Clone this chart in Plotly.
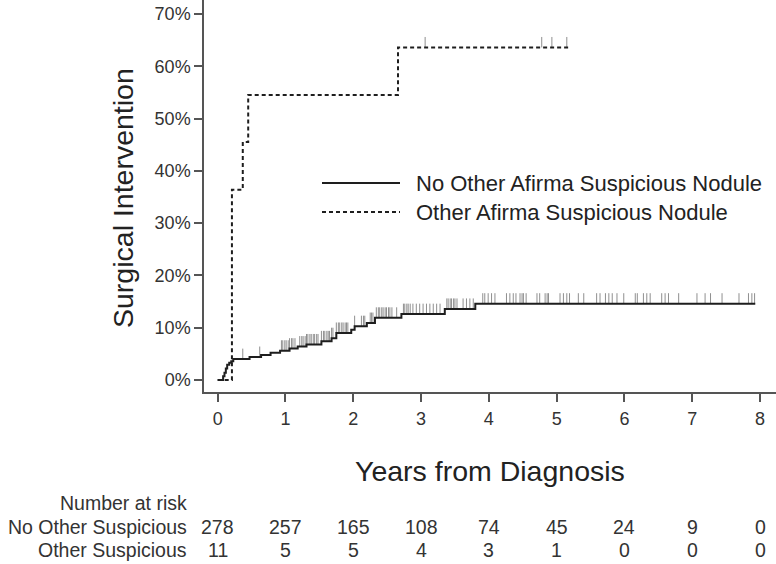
import numpy as np
import plotly.graph_objects as go

# ---------------- data ----------------
# Cumulative incidence (%) step functions: event times (years) and level after each step
no_other_times = [0.0, 0.08, 0.10, 0.12, 0.14, 0.17, 0.20, 0.23, 0.47, 0.64, 0.78, 0.92, 1.06,
                  1.18, 1.31, 1.53, 1.68, 1.75, 1.97, 2.02, 2.20, 2.32, 2.71, 3.35, 3.80, 7.93]
no_other_vals = [0.0, 0.7, 1.4, 2.2, 2.9, 3.3, 3.6, 4.0, 4.4, 4.8, 5.2, 5.6, 6.0,
                 6.4, 6.8, 7.4, 8.0, 9.0, 9.6, 10.3, 10.9, 11.9, 12.6, 13.6, 14.6, 14.6]

other_times = [0.0, 0.21, 0.37, 0.45, 2.66, 5.17]
other_vals = [0.0, 36.4, 45.5, 54.5, 63.6, 63.6]

# Censoring times (years)
no_other_censor = [0.37, 0.62, 0.94, 0.96, 0.99, 1.01, 1.04, 1.06, 1.09, 1.11, 1.14, 1.21, 1.24,
                   1.26, 1.29, 1.31, 1.33, 1.36, 1.38, 1.41, 1.43, 1.46, 1.48, 1.53, 1.56, 1.58,
                   1.61, 1.63, 1.65, 1.68, 1.70, 1.75, 1.78, 1.80, 1.83, 1.85, 1.88, 1.90, 1.92,
                   2.02, 2.12, 2.15, 2.17, 2.25, 2.27, 2.29, 2.34, 2.37, 2.39, 2.42, 2.44, 2.47,
                   2.49, 2.52, 2.54, 2.57, 2.64, 2.74, 2.76, 2.79, 2.81, 2.84, 2.88, 2.93, 2.98,
                   3.03, 3.08, 3.13, 3.18, 3.23, 3.28, 3.38, 3.40, 3.43, 3.45, 3.48, 3.50, 3.53,
                   3.62, 3.67, 3.72, 3.77, 3.91, 3.94, 3.99, 4.04, 4.09, 4.26, 4.31, 4.36, 4.40,
                   4.46, 4.49, 4.51, 4.55, 4.71, 4.75, 4.83, 4.86, 4.88, 5.05, 5.10, 5.15, 5.19,
                   5.32, 5.40, 5.59, 5.64, 5.72, 5.77, 5.82, 5.89, 5.99, 6.16, 6.19, 6.28, 6.33,
                   6.38, 6.55, 6.60, 6.65, 6.80, 7.07, 7.19, 7.27, 7.44, 7.69, 7.83, 7.88, 7.92]
other_censor = [3.06, 4.78, 4.93, 5.15]

# Number at risk table
risk_years = [0, 1, 2, 3, 4, 5, 6, 7, 8]
no_other_risk = [278, 257, 165, 108, 74, 45, 24, 9, 0]
other_risk = [11, 5, 5, 4, 3, 1, 0, 0, 0]

y_ticks = [0, 10, 20, 30, 40, 50, 60, 70]
y_tick_labels = ["0%", "10%", "20%", "30%", "40%", "50%", "60%", "70%"]
x_ticks = [0, 1, 2, 3, 4, 5, 6, 7, 8]

label_no_other = "No Other Afirma Suspicious Nodule"
label_other = "Other Afirma Suspicious Nodule"
risk_title = "Number at risk"
risk_row_labels = ["No Other Suspicious", "Other Suspicious"]

# ---------------- helpers ----------------
FONT = "Liberation Sans, Arial, sans-serif"
TICK_H = 2.0  # censor tick height in % units


def step_value(times, vals, t):
    idx = np.searchsorted(np.asarray(times), t, side="right") - 1
    return np.asarray(vals)[max(idx, 0)]


def censor_segments(times, vals, censor):
    xs, ys = [], []
    for c in censor:
        v = step_value(times, vals, c)
        xs += [c, c, None]
        ys += [v, v + TICK_H, None]
    return xs, ys


fig = go.Figure()

# censor ticks
for times, vals, cens in [(no_other_times, no_other_vals, no_other_censor),
                          (other_times, other_vals, other_censor)]:
    cx, cy = censor_segments(times, vals, cens)
    fig.add_trace(go.Scatter(x=cx, y=cy, mode="lines", line=dict(color="#8f8f8f", width=1),
                             showlegend=False, hoverinfo="skip"))

fig.add_trace(go.Scatter(x=other_times, y=other_vals, mode="lines", line_shape="hv",
                         line=dict(color="#1e1e1e", width=2, dash="4px,3px"),
                         name=label_other, showlegend=False))
fig.add_trace(go.Scatter(x=no_other_times, y=no_other_vals, mode="lines", line_shape="hv",
                         line=dict(color="#1e1e1e", width=2),
                         name=label_no_other, showlegend=False))

# ---------------- layout ----------------
W, H = 776, 564
L, R, T, B = 204, 0, 0, 172
PW, PH = W - L - R, H - T - B


def px_x(p):
    return (p - L) / PW


def px_y(p):
    return (H - B - p) / PH


fig.update_layout(
    width=W, height=H,
    margin=dict(l=L, r=R, t=T, b=B, pad=0),
    paper_bgcolor="white", plot_bgcolor="white",
    font=dict(family=FONT, color="#333333"),
    showlegend=False,
    xaxis=dict(range=[-0.202, 8.236], tickvals=x_ticks, showgrid=False, zeroline=False,
               showline=True, linecolor="#555555", linewidth=1.5,
               ticks="outside", ticklen=8, tickwidth=1.5, tickcolor="#555555",
               ticklabelstandoff=2,
               tickfont=dict(size=18, color="#333333", family=FONT)),
    yaxis=dict(range=[-2.295, 72.67], tickvals=y_ticks, ticktext=y_tick_labels, showgrid=False,
               zeroline=False, showline=True, linecolor="#555555", linewidth=1.5,
               ticks="outside", ticklen=8, tickwidth=1.5, tickcolor="#555555",
               tickfont=dict(size=18, color="#333333", family=FONT)),
)

ann = []
# axis titles
ann.append(dict(text="Years from Diagnosis", xref="paper", yref="paper",
                x=px_x(490), y=px_y(471), xanchor="center", yanchor="middle",
                showarrow=False, font=dict(size=28.5, color="#222222", family=FONT)))
ann.append(dict(text="Surgical Intervention", xref="paper", yref="paper",
                x=px_x(123), y=px_y(198), xanchor="center", yanchor="middle", textangle=-90,
                showarrow=False, font=dict(size=28.5, color="#222222", family=FONT)))

# legend
for ypx, lab, dash in [(183, label_no_other, "solid"), (212, label_other, "4px,3px")]:
    fig.add_shape(type="line", xref="paper", yref="paper",
                  x0=px_x(322), x1=px_x(400), y0=px_y(ypx), y1=px_y(ypx),
                  line=dict(color="#1e1e1e", width=2, dash=dash))
    ann.append(dict(text=lab, xref="paper", yref="paper", x=px_x(414), y=px_y(ypx),
                    xanchor="left", yanchor="middle", showarrow=False,
                    font=dict(size=22, color="#222222", family=FONT)))

# number at risk table
ann.append(dict(text=risk_title, xref="paper", yref="paper", x=px_x(189), y=px_y(503),
                xanchor="right", yanchor="middle", showarrow=False,
                font=dict(size=19.5, color="#333333", family=FONT)))
for ypx, lab, counts in [(527, risk_row_labels[0], no_other_risk),
                         (550, risk_row_labels[1], other_risk)]:
    ann.append(dict(text=lab, xref="paper", yref="paper", x=px_x(189), y=px_y(ypx),
                    xanchor="right", yanchor="middle", showarrow=False,
                    font=dict(size=19.5, color="#333333", family=FONT)))
    for yr, n in zip(risk_years, counts):
        ann.append(dict(text=str(n), xref="x", yref="paper", x=yr, y=px_y(ypx),
                        xanchor="center", yanchor="middle", showarrow=False,
                        font=dict(size=19.5, color="#333333", family=FONT)))

fig.update_layout(annotations=ann)
fig.write_html("out.html", config={"displayModeBar": False},
               post_script="document.body.style.margin='0';document.body.style.overflow='hidden';")
